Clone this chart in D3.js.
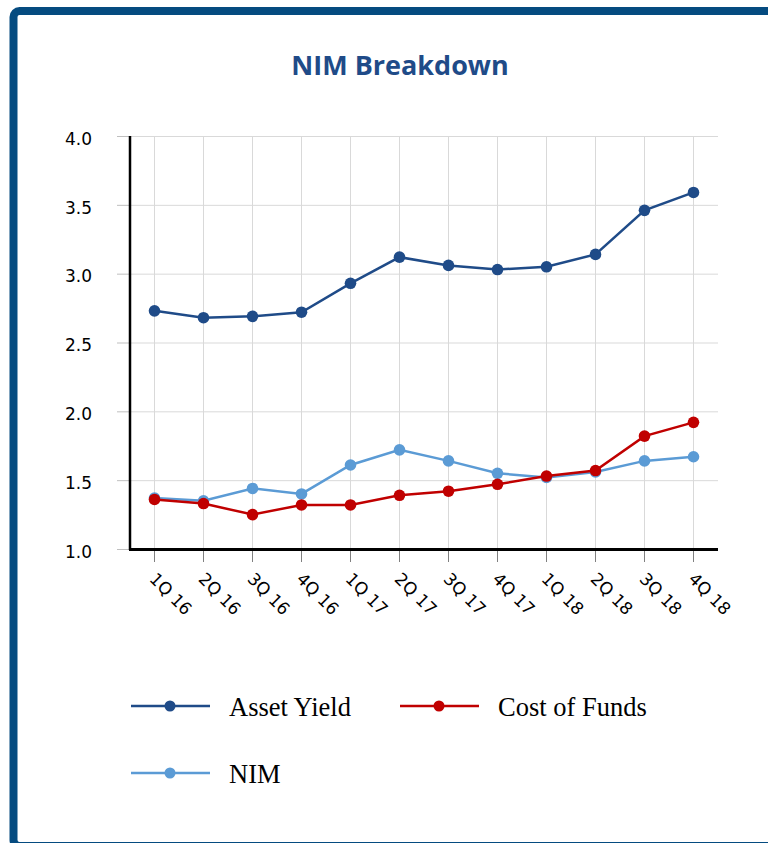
<!DOCTYPE html>
<html>
<head>
<meta charset="utf-8">
<script src="https://cdn.jsdelivr.net/npm/d3@7"></script>
<style>
  body { margin: 0; background: #fff; }
  svg { display: block; }
</style>
</head>
<body>
<svg id="chart" width="768" height="843"></svg>
<script>
const quarters = ["1Q 16", "2Q 16", "3Q 16", "4Q 16", "1Q 17", "2Q 17", "3Q 17", "4Q 17", "1Q 18", "2Q 18", "3Q 18", "4Q 18"];
const assetYield = [2.73, 2.68, 2.69, 2.72, 2.93, 3.12, 3.06, 3.03, 3.05, 3.14, 3.46, 3.59];
const costOfFunds = [1.36, 1.33, 1.25, 1.32, 1.32, 1.39, 1.42, 1.47, 1.53, 1.57, 1.82, 1.92];
const nim = [1.37, 1.35, 1.44, 1.40, 1.61, 1.72, 1.64, 1.55, 1.52, 1.56, 1.64, 1.67];
const yTicks = [1.0, 1.5, 2.0, 2.5, 3.0, 3.5, 4.0];

const series = [
  { name: "Asset Yield", values: assetYield, color: "#1f4b88" },
  { name: "NIM", values: nim, color: "#5b9bd5" },
  { name: "Cost of Funds", values: costOfFunds, color: "#c00000" },
];
// legend order differs from drawing order
const legendItems = [
  { name: "Asset Yield", color: "#1f4b88", col: 0, row: 0 },
  { name: "Cost of Funds", color: "#c00000", col: 1, row: 0 },
  { name: "NIM", color: "#5b9bd5", col: 0, row: 1 },
];

const svg = d3.select("#chart");

// frame
svg.append("rect")
  .attr("x", 13.5).attr("y", 11)
  .attr("width", 800).attr("height", 835)
  .attr("rx", 6)
  .attr("fill", "none")
  .attr("stroke", "#054b80")
  .attr("stroke-width", 8);

svg.append("text")
  .text("NIM Breakdown")
  .attr("x", 400).attr("y", 75)
  .attr("text-anchor", "middle")
  .attr("font-family", "'Open Sans', sans-serif")
  .attr("font-weight", "bold")
  .attr("font-size", 27)
  .attr("fill", "#1f4b88");

const plotLeft = 130, plotRight = 718, plotTop = 136, plotBottom = 549;

const x = d3.scaleBand().domain(quarters).range([plotLeft, plotRight]);
const xc = (d) => x(d) + x.bandwidth() / 2;
const y = d3.scaleLinear().domain([1, 4]).range([plotBottom, plotTop]);

// horizontal grid + left ticks
const yAxisG = svg.append("g")
  .attr("transform", `translate(${plotLeft},0)`)
  .call(d3.axisLeft(y).tickValues(yTicks).tickFormat(d3.format(".1f"))
    .tickSize(13).tickPadding(25));
yAxisG.select(".domain").remove();
yAxisG.selectAll(".tick line").attr("stroke", "#bfbfbf");
yAxisG.selectAll(".tick text")
  .attr("font-family", "'DejaVu Sans', sans-serif")
  .attr("font-size", 17)
  .attr("fill", "#000")
  .attr("dy", "0.48em");

svg.append("g")
  .selectAll("line")
  .data(yTicks)
  .join("line")
  .attr("x1", plotLeft).attr("x2", plotRight)
  .attr("y1", (d) => y(d) + 0.5).attr("y2", (d) => y(d) + 0.5)
  .attr("stroke", "#d9d9d9");

// vertical grid
svg.append("g")
  .selectAll("line")
  .data(quarters)
  .join("line")
  .attr("x1", (d) => xc(d)).attr("x2", (d) => xc(d))
  .attr("y1", plotTop).attr("y2", plotBottom)
  .attr("stroke", "#d9d9d9");

// x axis
const xAxisG = svg.append("g")
  .attr("transform", `translate(0,${plotBottom})`)
  .call(d3.axisBottom(x).tickSize(13).tickSizeOuter(0));
xAxisG.select(".domain").remove();
xAxisG.selectAll(".tick line").attr("stroke", "#808080");
xAxisG.selectAll(".tick text")
  .attr("font-family", "'DejaVu Sans', sans-serif")
  .attr("font-size", 17)
  .attr("fill", "#000")
  .attr("text-anchor", "start")
  .attr("y", 0).attr("dy", 0)
  .attr("transform", "translate(-6,31) rotate(45)");

// axis lines
svg.append("line")
  .attr("x1", plotLeft).attr("x2", plotLeft)
  .attr("y1", plotTop).attr("y2", plotBottom + 1)
  .attr("stroke", "#000").attr("stroke-width", 2.5);
svg.append("line")
  .attr("x1", plotLeft - 1).attr("x2", plotRight)
  .attr("y1", plotBottom + 0.5).attr("y2", plotBottom + 0.5)
  .attr("stroke", "#000").attr("stroke-width", 3);

// series
const lineGen = d3.line()
  .x((d, i) => xc(quarters[i]))
  .y((d) => y(d));

series.forEach((s) => {
  const g = svg.append("g");
  g.append("path")
    .attr("d", lineGen(s.values))
    .attr("fill", "none")
    .attr("stroke", s.color)
    .attr("stroke-width", 2.5);
  g.selectAll("circle")
    .data(s.values)
    .join("circle")
    .attr("cx", (d, i) => xc(quarters[i]))
    .attr("cy", (d) => y(d))
    .attr("r", 5.8)
    .attr("fill", s.color);
});

// legend
const legend = svg.append("g");
legendItems.forEach((it) => {
  const lx = 131 + it.col * 269;
  const ly = 706 + it.row * 67;
  legend.append("line")
    .attr("x1", lx).attr("x2", lx + 79)
    .attr("y1", ly).attr("y2", ly)
    .attr("stroke", it.color).attr("stroke-width", 2.5);
  legend.append("circle")
    .attr("cx", lx + 39).attr("cy", ly).attr("r", 5.5)
    .attr("fill", it.color);
  legend.append("text")
    .text(it.name)
    .attr("x", lx + 98).attr("y", ly + 10)
    .attr("font-family", "'Liberation Serif', 'Times New Roman', serif")
    .attr("font-size", 26.5)
    .attr("fill", "#000");
});
</script>
</body>
</html>
